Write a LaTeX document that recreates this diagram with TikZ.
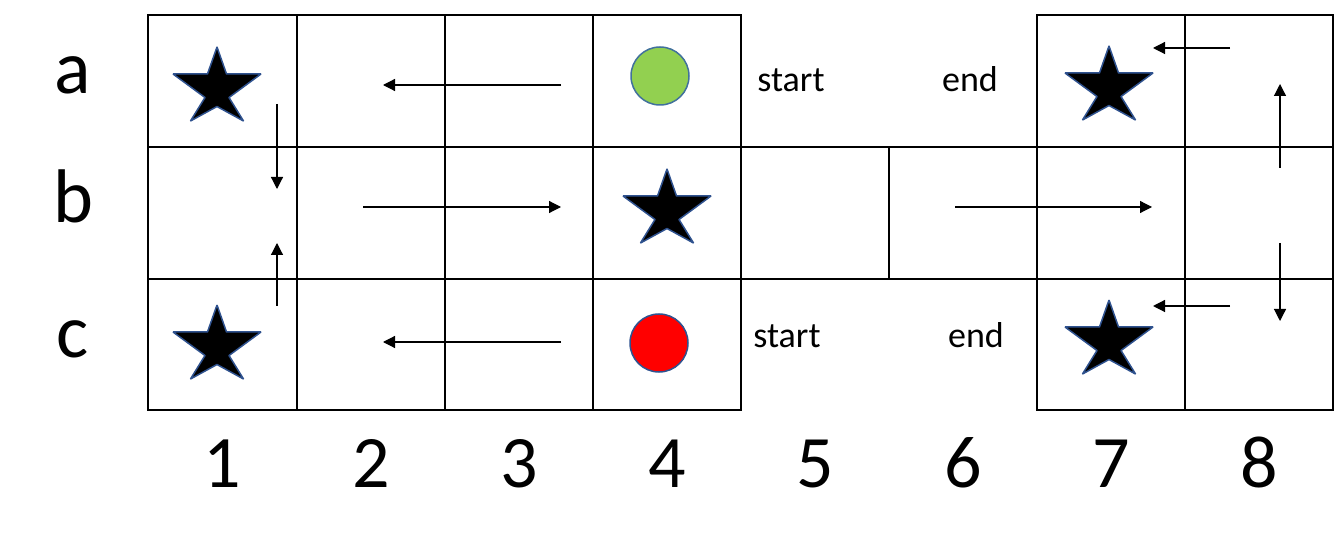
\documentclass[tikz,border=0pt]{standalone}
\usepackage{fontspec}
\setmainfont{Carlito}
\usetikzlibrary{arrows.meta}
\definecolor{starblue}{HTML}{2F528F}
\definecolor{circgreen}{HTML}{92D050}
\definecolor{circedge}{HTML}{41719C}
\tikzset{
  grid/.style={line width=2pt, draw=black},
  flow/.style={line width=1.2pt, -{Triangle[length=12pt,width=12pt]}},
  rowlab/.style={anchor=base, font=\fontsize{76}{80}\selectfont},
  collab/.style={anchor=base, font=\fontsize{74}{78}\selectfont},
  word/.style={anchor=base, font=\fontsize{36}{40}\selectfont},
  starpic/.pic={
    \filldraw[fill=black, draw=starblue, line width=1.5pt, line join=bevel]
      (0,-37) -- (9.5,-10) -- (44,-10) -- (12,13.5) -- (26.5,37) -- (0,22.5)
      -- (-26.5,37) -- (-12,13.5) -- (-44,-10) -- (-9.5,-10) -- cycle;
  }
}
\begin{document}
\begin{tikzpicture}[x=1pt,y=-1pt]
\useasboundingbox (0,0) rectangle (1336,553);
\fill[white] (0,0) rectangle (1336,553);
% left block
\draw[grid] (148,15) rectangle (741,410);
\foreach \x in {297,445,593} \draw[grid] (\x,15) -- (\x,410);
\foreach \y in {147,279} \draw[grid] (148,\y) -- (741,\y);
% middle row b
\draw[grid] (741,147) rectangle (1037,279);
\draw[grid] (889,147) -- (889,279);
% right block
\draw[grid] (1037,15) rectangle (1333,410);
\draw[grid] (1185,15) -- (1185,410);
\foreach \y in {147,279} \draw[grid] (1037,\y) -- (1333,\y);
% stars
\pic at (217,84) {starpic};
\pic at (217,342) {starpic};
\pic at (667,206) {starpic};
\pic at (1109,83) {starpic};
\pic at (1109,337) {starpic};
% circles
\node[circle, minimum size=58pt, inner sep=0pt, fill=circgreen, draw=circedge, line width=1.5pt] (green) at (660,76) {};
\node[circle, minimum size=58pt, inner sep=0pt, fill=red, draw=starblue, line width=1.5pt] (redc) at (659,343) {};
% arrow endpoints
\coordinate (a1s) at (561,85); \coordinate (a1e) at (383,85);
\coordinate (d1s) at (277,104); \coordinate (d1e) at (277,189);
\coordinate (u1s) at (277,306); \coordinate (u1e) at (277,243);
\coordinate (b1s) at (363,207); \coordinate (b1e) at (561,207);
\coordinate (c1s) at (561,342); \coordinate (c1e) at (383,342);
\coordinate (b2s) at (955,207); \coordinate (b2e) at (1152,207);
\coordinate (a2s) at (1230,48); \coordinate (a2e) at (1153,48);
\coordinate (u2s) at (1280,168); \coordinate (u2e) at (1280,84);
\coordinate (d2s) at (1280,243); \coordinate (d2e) at (1280,321);
\coordinate (c2s) at (1230,306); \coordinate (c2e) at (1153,306);
\draw[flow] (a1s) -- (a1e);
\draw[flow] (d1s) -- (d1e);
\draw[flow] (u1s) -- (u1e);
\draw[flow] (b1s) -- (b1e);
\draw[flow] (c1s) -- (c1e);
\draw[flow] (b2s) -- (b2e);
\draw[flow] (a2s) -- (a2e);
\draw[flow] (u2s) -- (u2e);
\draw[flow] (d2s) -- (d2e);
\draw[flow] (c2s) -- (c2e);
% row labels
\node[rowlab] (la) at (73,94) {a};
\node[rowlab] (lb) at (73,223) {b};
\node[rowlab] (lc) at (73,357) {c};
% column labels
\foreach \n/\x in {1/222,2/371,3/519,4/667,5/815,6/963,7/1111,8/1259}
  \node[collab] (n\n) at (\x,487) {\n};
% words
\node[word] (sa) at (791,92) {start};
\node[word] (ea) at (970,92) {end};
\node[word] (sc) at (787,347) {start};
\node[word] (ec) at (976,347) {end};
\end{tikzpicture}
\end{document}
